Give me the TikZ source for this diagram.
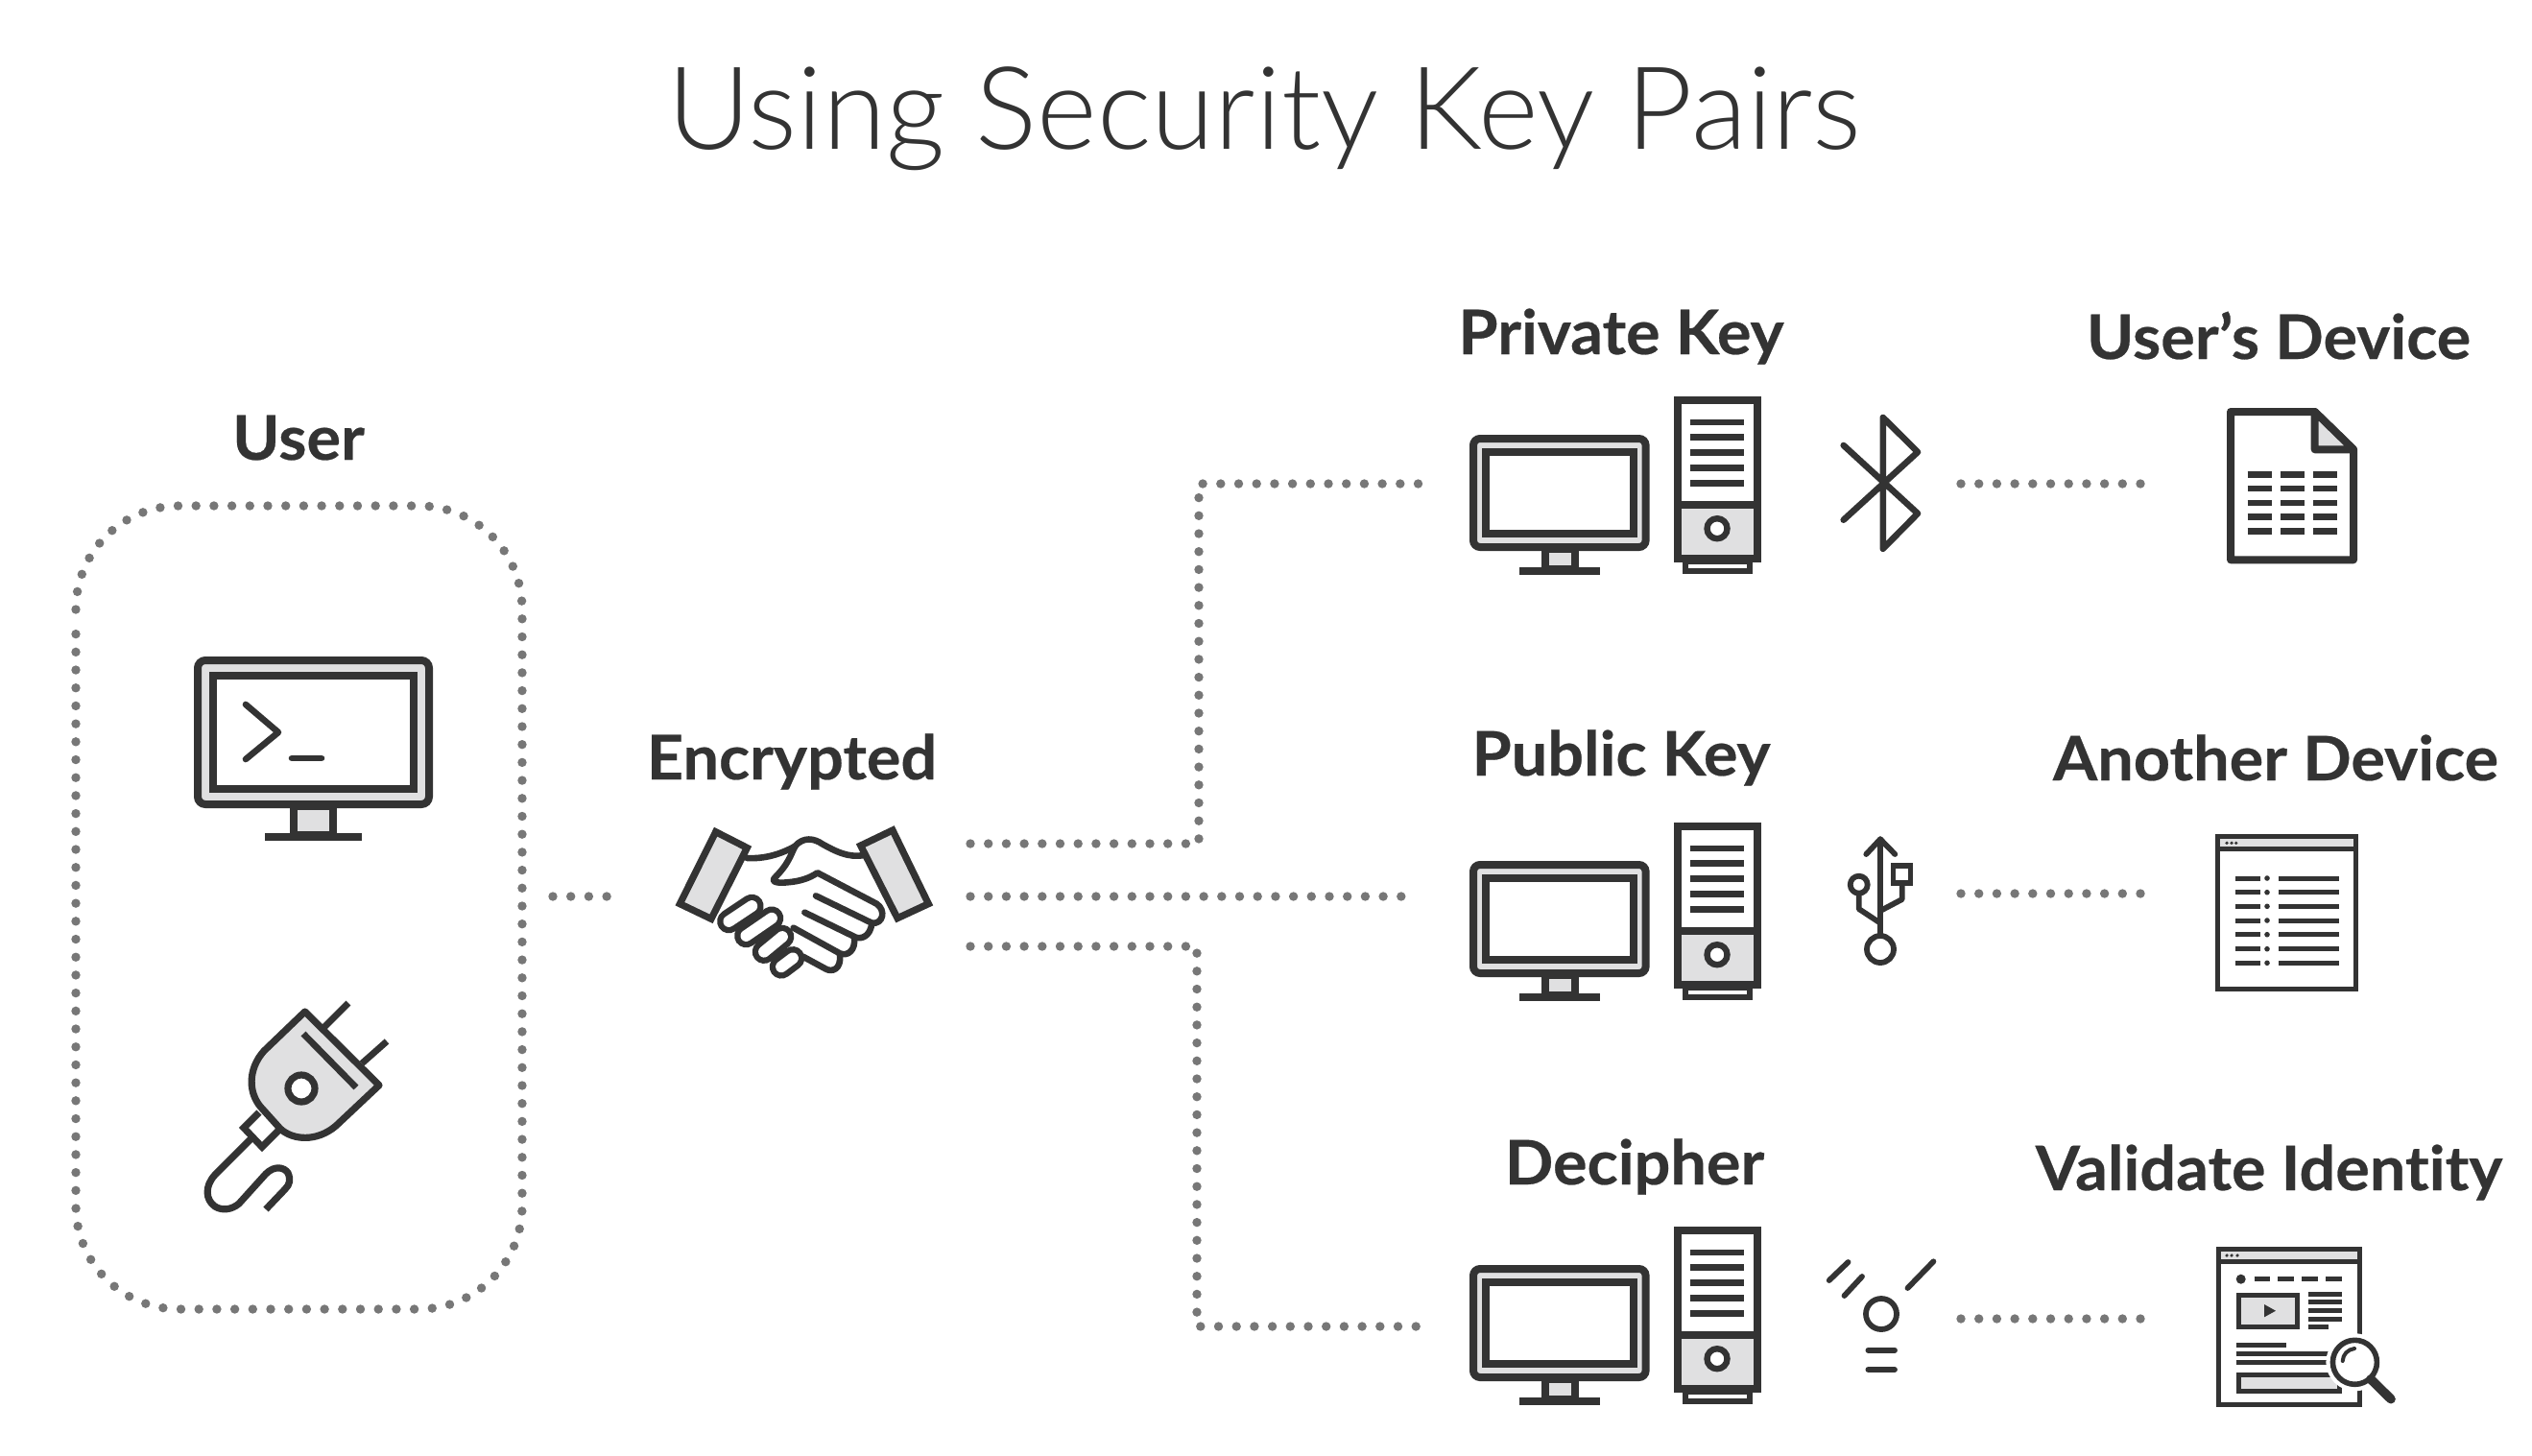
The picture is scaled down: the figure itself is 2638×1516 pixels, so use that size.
\documentclass[tikz,border=0pt]{standalone}
\usepackage{fontspec}
\setmainfont{Lato}
\newfontfamily\titlefont{Lato Light}
\newfontfamily\labelfont{Lato Bold}[Ligatures=NoCommon,FakeStretch=1.04,FakeBold=0.4]
\definecolor{ink}{HTML}{333333}
\definecolor{pale}{HTML}{E0E0E1}
\definecolor{dotc}{HTML}{777777}
\tikzset{
  x=0.5pt,y=-0.5pt,
  ic/.style={draw=ink,line width=4pt,line join=miter},
  icg/.style={ic,fill=pale},
  icw/.style={ic,fill=white},
  rl/.style={draw=ink,line width=2.9pt,line cap=round,line join=round},
  bar/.style={draw=ink,line width=3.4pt},
  thin bar/.style={draw=ink,line width=2.5pt},
  dots/.style={draw=dotc,line width=4.7pt,line cap=round,dash pattern=on 0pt off 9.35pt},
  lab/.style={anchor=base,text=ink,inner sep=0pt,font=\labelfont\fontsize{32}{36}\selectfont},
  computer/.pic={
    \draw[icg,rounded corners=3.5pt] (1535,457) rectangle (1714.6,570);
    \draw[icw] (1548,471) rectangle (1702,556);
    \draw[icg,line width=4pt] (1610,572) rectangle (1641,593);
    \fill[ink] (1583,591) rectangle (1667,599);
    \draw[icw] (1748,417) rectangle (1830.6,582);
    \draw[icg] (1748,526) rectangle (1830.6,582);
    \foreach \yy in {440,455.7,471.7,487.3,503.3}{\draw[bar] (1761,\yy) -- (1817,\yy);}
    \draw[draw=ink,line width=3.2pt,fill=white] (1789,550.7) circle (10.5);
    \draw[draw=ink,line width=3pt,fill=white] (1755.5,585) rectangle (1823,595);
  }
}
\begin{document}
\begin{tikzpicture}
\useasboundingbox[fill=white] (0,0) rectangle (2638,1516);

% title
\node[anchor=base,text=ink,inner sep=0pt,font=\titlefont\fontsize{60}{70}\selectfont] (title) at (1317,155) {Using Security Key Pairs};

% labels
\node[lab] (luser) at (311,479) {User};
\node[lab] (lenc) at (825,812) {Encrypted};
\node[lab] (lpriv) at (1689,369) {Private Key};
\node[lab] (lpub) at (1689,808) {Public Key};
\node[lab] (ldec) at (1703,1234) {Decipher};
\node[lab] (ldev) at (2374,374) {User’s Device};
\node[lab] (lano) at (2371,813) {Another Device};
\node[lab] (lval) at (2364,1240) {Validate Identity};

% user box
\draw[dots] (79,635) .. controls (79,575) and (127,527) .. (187,527) -- (436,527) .. controls (496,527) and (544,575) .. (544,635) -- (544,1256) .. controls (544,1316) and (496,1364) .. (436,1364) -- (187,1364) .. controls (127,1364) and (79,1316) .. (79,1256) -- (79,644);

% terminal monitor
\draw[icg,rounded corners=4pt] (206,688) rectangle (447,838);
\draw[icw] (222,704) rectangle (431,822);
\draw[icg] (306,840) rectangle (347,870);
\fill[ink] (276,868) rectangle (377,876);
\draw[rl,line width=3.3pt] (256,734) -- (290,763) -- (256,791);
\draw[rl,line width=3.3pt] (304,790) -- (335,790);

% plug
\draw[ic,line width=3.6pt,fill=white] (270,1159) -- (254,1175) -- (273,1195) -- (290,1178);
\draw[ic,line width=3.6pt,line join=round,fill=pale] (317.7,1054) -- (275,1095) .. controls (258,1114) and (258,1140) .. (274,1156) -- (292,1176) .. controls (305,1188) and (330,1190) .. (350,1173) -- (395,1130.7) -- cycle;
\draw[ic,line width=3.4pt] (338,1070) -- (363,1045) (377,1108) -- (403,1085) (316,1077) -- (371,1133);
\draw[draw=ink,line width=3.6pt,fill=white] (314,1134) circle (14);
\draw[ic,line width=3.6pt] (262,1186) -- (224,1224) .. controls (213,1236) and (214,1250) .. (224,1257) .. controls (232,1262) and (242,1260) .. (249,1254) -- (277,1223) .. controls (286,1214) and (296,1216) .. (300,1222) .. controls (303,1229) and (302,1234) .. (297,1239) -- (277,1260);

% handshake
\begin{scope}[shift={(640,820)},x=0.16667pt,y=-0.16667pt,line width=3.3pt,draw=ink,line join=round,line cap=round]
\draw (415,222) .. controls (470,225) and (520,210) .. (565,185);
\draw (565,185) .. controls (590,155) and (625,160) .. (650,178) .. controls (690,200) and (730,222) .. (780,213);
\draw (565,185) .. controls (550,215) and (545,240) .. (500,285) .. controls (490,300) and (520,300) .. (540,298) .. controls (580,295) and (610,285) .. (635,268) -- (820,365) .. controls (850,385) and (840,430) .. (805,425) -- (630,340);
\draw (805,425) .. controls (800,470) and (770,475) .. (755,470) -- (595,392);
\draw (750,470) .. controls (755,510) and (730,530) .. (705,520) -- (560,440);
\draw (705,525) .. controls (710,570) and (680,580) .. (660,568) -- (590,530);
\foreach \ax/\ay/\bx/\by in {358/420/430/372, 412/465/492/410, 468/515/525/468, 522/562/558/535}{
  \draw[line width=12.3pt] (\ax,\ay) -- (\bx,\by);
  \draw[white,line width=5.9pt] (\ax,\ay) -- (\bx,\by);
}
\draw[fill=pale,line cap=butt,line join=miter,line width=3.6pt] (317,140) -- (415,190) -- (303,412) -- (205,365) -- cycle;
\draw[fill=pale,line cap=butt,line join=miter,line width=3.6pt] (870,135) -- (770,183) -- (885,410) -- (982,365) -- cycle;
\end{scope}

% computers
\pic (c1) at (0,0) {computer};
\pic (c2) at (0,444) {computer};
\pic (c3) at (0,865) {computer};

% bluetooth
\draw[rl,line width=3.3pt] (1920.7,464) -- (1998,535) -- (1961.8,571.7) -- (1961.8,435) -- (1998,471) -- (1920.7,541.7);

% usb
\draw[rl] (1944.3,890) -- (1959,874.3) -- (1974.3,890);
\draw[rl] (1959,874.3) -- (1959,975);
\draw[rl] (1959,989) circle (14);
\draw[rl] (1936.7,921.7) circle (9);
\draw[rl,line cap=butt] (1936.7,931) -- (1936.7,947) -- (1959,961.7);
\draw[rl,line join=miter] (1972.5,902) rectangle (1990.5,920);
\draw[rl,line cap=butt] (1981.7,920) -- (1981.7,937) -- (1959,949);

% signal
\draw[rl] (1905.7,1334) -- (1925.5,1315);
\draw[rl] (1921.5,1350) -- (1940,1330);
\draw[rl] (1987.5,1342) -- (2014.4,1314.3);
\draw[rl] (1960,1369) circle (16);
\draw[rl] (1946.4,1406.7) -- (1974,1406.7);
\draw[rl] (1946.4,1427) -- (1974,1427);

% document
\draw[ic,line join=round,fill=white] (2324,429) -- (2411.7,429) -- (2452,468.3) -- (2452,583.3) -- (2324,583.3) -- cycle;
\draw[ic,line join=round,fill=pale] (2411.7,429) -- (2411.7,468.3) -- (2452,468.3) -- cycle;
\foreach \yy in {494.3,509,524,538.7,553.3}{
  \draw[bar] (2341.7,\yy) -- (2366.7,\yy) (2376,\yy) -- (2400.7,\yy) (2410,\yy) -- (2435,\yy);
}

% list window
\draw[thin bar,fill=white] (2310.5,871.5) rectangle (2454,1030.5);
\draw[thin bar,fill=pale] (2310.5,871.5) rectangle (2454,884);
\foreach \xx in {2320,2325,2329.7}{\fill[ink] (\xx,878.3) circle (1.8);}
\foreach \yy in {915,929.7,944.3,959,973.7,988.7,1003.3}{
  \draw[thin bar] (2329.3,\yy) -- (2355.3,\yy) (2374.3,\yy) -- (2436.7,\yy);
  \fill[ink] (2362,\yy) circle (2.8);
}

% validate window
\draw[thin bar,fill=white] (2311.5,1301.5) rectangle (2458,1463);
\draw[thin bar,fill=pale] (2311.5,1301.5) rectangle (2458,1314.3);
\foreach \xx in {2320,2325,2331}{\fill[ink] (\xx,1308) circle (1.8);}
\fill[ink] (2334.7,1332.7) circle (5);
\draw[thin bar] (2348.6,1332.7) -- (2365,1332.7) (2373,1332.7) -- (2390,1332.7) (2398,1332.7) -- (2415,1332.7) (2423,1332.7) -- (2439.5,1332.7);
\draw[thin bar,fill=pale] (2332,1349) rectangle (2393.5,1382.5);
\fill[ink] (2359,1359) -- (2359,1372.3) -- (2371,1365.7) -- cycle;
\foreach \yy in {1348.3,1356.7,1365.3,1374}{\draw[thin bar] (2404.7,\yy) -- (2440,\yy);}
\draw[thin bar] (2404.7,1382.7) -- (2426,1382.7);
\draw[thin bar] (2329.6,1401.3) -- (2382,1401.3) (2329.6,1410.7) -- (2426.5,1410.7) (2329.6,1419.3) -- (2426.5,1419.3);
\draw[thin bar,fill=pale] (2332,1432) rectangle (2437,1449.5);
\fill[white] (2453.4,1419.3) circle (30);
\draw[draw=ink,line width=2.8pt,fill=white] (2453.4,1419.3) circle (23);
\draw[draw=ink,line width=2pt,line cap=round] (2440.7,1418) .. controls (2441,1411) and (2446,1406) .. (2453,1405);
\draw[draw=ink,line width=4.8pt,line cap=round] (2470,1437) -- (2491,1457.7);

% connectors
\coordinate (ua) at (576,934);
\coordinate (ub) at (636,934);
\coordinate (e1) at (1011,879);
\coordinate (e2) at (1011,934);
\coordinate (e3) at (1011,986);
\coordinate (p1) at (1485,504);
\coordinate (p2) at (1465,934);
\coordinate (p3) at (1482,1382);
\coordinate (k1) at (1249,504);
\coordinate (k3) at (1247,1382);
\coordinate (r1a) at (2043,504);
\coordinate (r1b) at (2236,504);
\coordinate (r2a) at (2043,931);
\coordinate (r2b) at (2236,931);
\coordinate (r3a) at (2043,1374);
\coordinate (r3b) at (2234,1374);
\draw[dots] (ua) -- (ub);
\draw[dots] (e1) -- (k1 |- e1) -- (k1) -- (p1);
\draw[dots] (e2) -- (p2);
\draw[dots] (e3) -- (k3 |- e3) -- (k3) -- (p3);
\draw[dots] (r1a) -- (r1b);
\draw[dots] (r2a) -- (r2b);
\draw[dots] (r3a) -- (r3b);
\end{tikzpicture}
\end{document}
